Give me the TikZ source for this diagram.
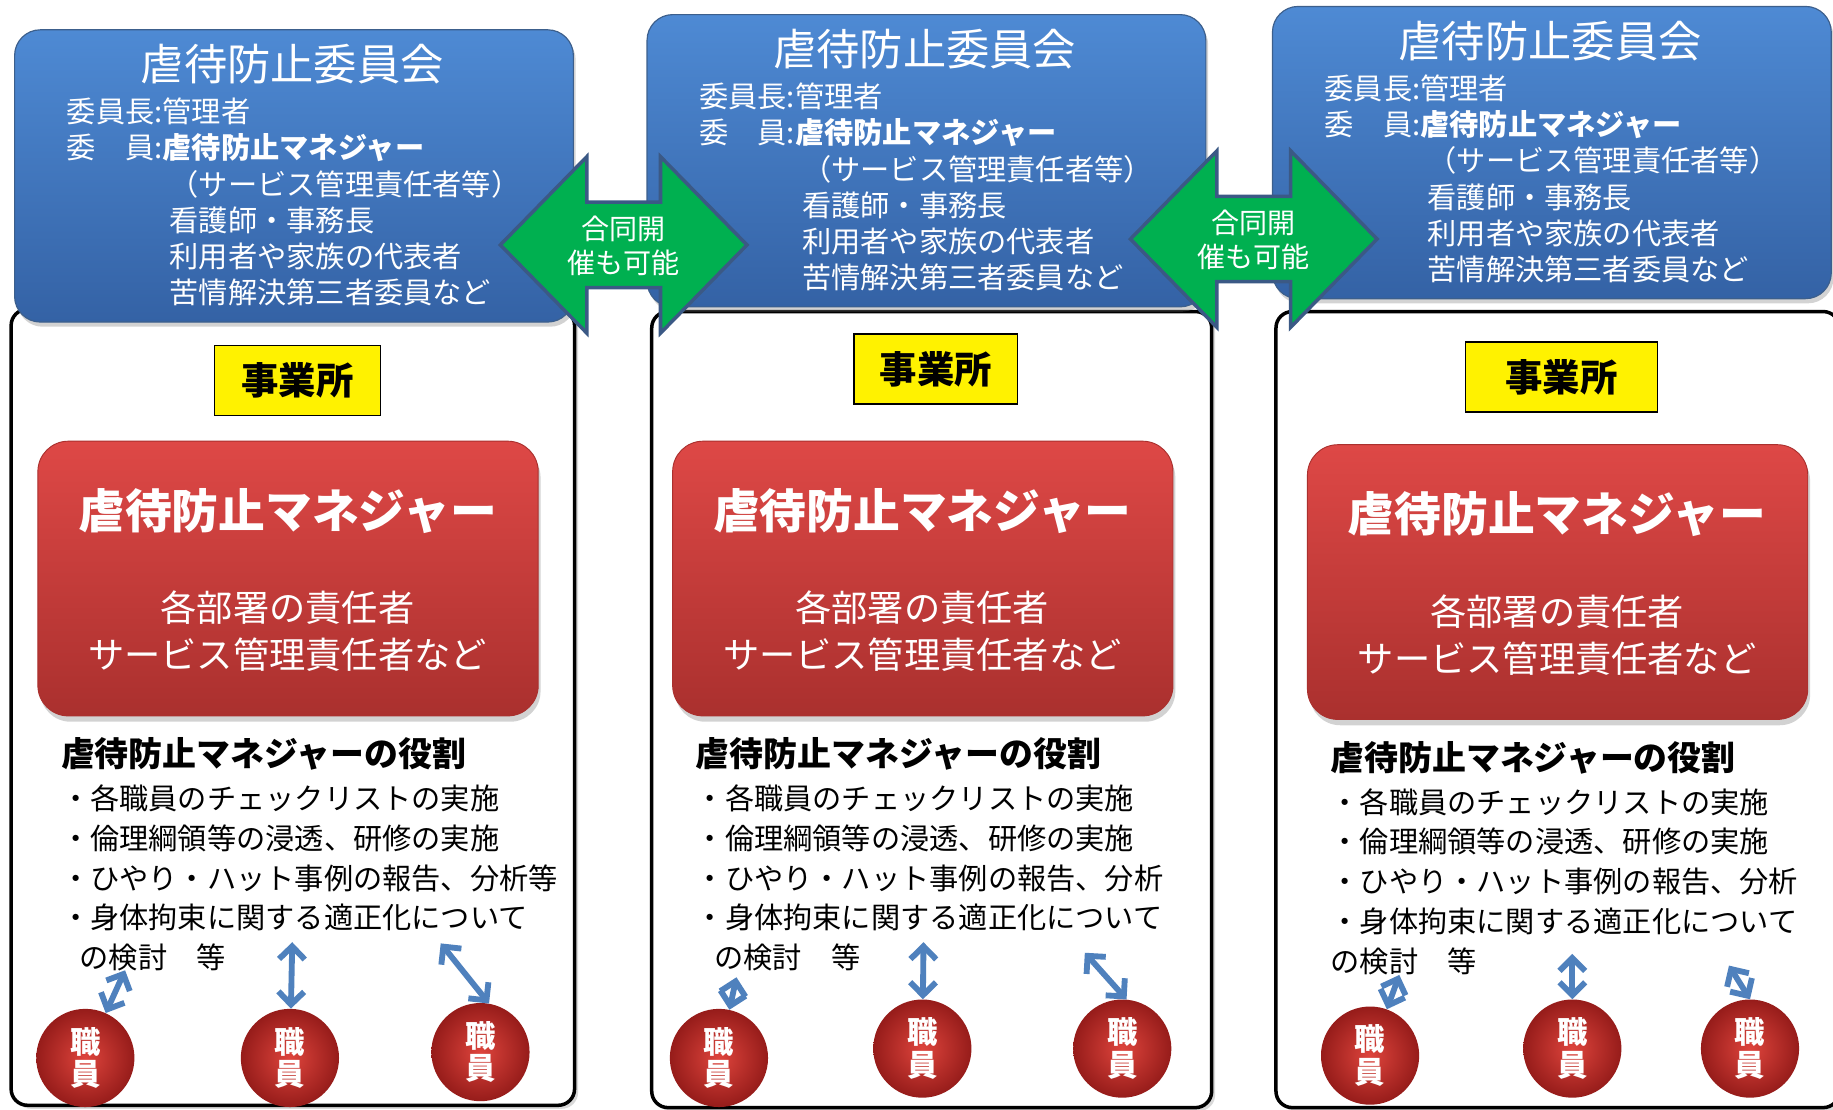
\documentclass[tikz,border=0pt]{standalone}
\usepackage{fontspec}
\setmainfont{Noto Sans CJK JP}
\usetikzlibrary{arrows.meta,shadows}

\definecolor{boxblue}{RGB}{78,138,212}
\definecolor{boxbluedark}{RGB}{52,98,165}
\definecolor{boxedge}{RGB}{60,95,140}
\definecolor{mgrred}{RGB}{222,72,70}
\definecolor{mgrreddark}{RGB}{170,48,46}
\definecolor{jointgreen}{RGB}{0,176,80}
\definecolor{jointedge}{RGB}{59,89,133}
\definecolor{linkblue}{RGB}{79,129,189}
\definecolor{staffred}{RGB}{222,68,60}
\definecolor{staffreddark}{RGB}{150,28,26}

\begin{document}
\begin{tikzpicture}[x=1pt,y=-1pt,
			committee box/.style={draw=boxedge,line width=1pt,rounded corners=22pt,top color=boxblue,bottom color=boxbluedark,minimum width=478pt,minimum height=250pt,anchor=north west,inner sep=0pt,drop shadow={shadow xshift=2pt,shadow yshift=-4pt,opacity=0.35}},
			committee title/.style={text=white,font=\fontsize{37}{44}\selectfont},
			member/.style={text=white,font=\fontsize{25}{31}\selectfont,anchor=base west,inner sep=0pt},
			office frame/.style={draw=black,line width=3pt,rounded corners=14pt,fill=white,minimum height=681pt,anchor=north west,inner sep=0pt,drop shadow={shadow xshift=3pt,shadow yshift=-3pt,opacity=0.3}},
			office tag/.style={draw=black,line width=1.2pt,fill=yellow,minimum height=60pt,anchor=north west,inner sep=0pt,font=\fontsize{32}{38}\selectfont\bfseries},
			manager box/.style={draw=mgrreddark,line width=0.8pt,rounded corners=26pt,top color=mgrred,bottom color=mgrreddark,minimum width=428pt,minimum height=235pt,anchor=north west,inner sep=0pt,drop shadow={shadow xshift=2pt,shadow yshift=-5pt,opacity=0.35}},
			manager title/.style={text=white,font=\fontsize{40}{48}\selectfont\bfseries},
			manager sub/.style={text=white,align=center,font=\fontsize{31}{40}\selectfont},
			role head/.style={anchor=base west,inner sep=0pt,font=\fontsize{29}{35}\selectfont\bfseries},
			role item/.style={anchor=base west,inner sep=0pt,font=\fontsize{25}{31}\selectfont},
			staff/.style={circle,inner color=staffred,outer color=staffreddark,minimum size=84pt,inner sep=0pt,text=white,align=center,font=\fontsize{26}{28}\selectfont\bfseries},
			staff link/.style={{Straight Barb[length=11pt,width=22pt]}-{Straight Barb[length=11pt,width=22pt]},draw=linkblue,line width=5pt},
			joint/.style={draw=jointedge,line width=3pt,fill=jointgreen,line join=miter},
			joint text/.style={text=white,align=center,font=\fontsize{24}{29}\selectfont}
			]

			\useasboundingbox (0,0) rectangle (1568,949);

			% committee: name, top left corner
			\def\committee#1#2#3{
				\node[committee box] (#1box) at (#2,#3) {};
				\node[committee title] (#1title) at (#2+238,#3+30) {虐待防止委員会};
				\node[member] (#1chair) at (#2+45,#3+80) {委員長:管理者};
				\node[member] (#1memb) at (#2+45,#3+111) {委　員:\textbf{虐待防止マネジャー}};
				\foreach \t [count=\i] in {（サービス管理責任者等）,看護師・事務長,利用者や家族の代表者,苦情解決第三者委員など}
					\node[member] (#1m\i) at (#2+133,#3+111+31*\i) {\t};
			}

			% manager: name, top left corner, third item, indent of last line
			\def\manager#1#2#3#4#5{
				\node[manager box] (#1mgr) at (#2,#3) {};
				\node[manager title] (#1mgrtitle) at (#2+214,#3+60) {虐待防止マネジャー};
				\node[manager sub] (#1mgrsub) at (#2+214,#3+163) {各部署の責任者\\サービス管理責任者など};
				\node[role head] (#1role) at (#2+20,#3+279) {虐待防止マネジャーの役割};
				\foreach \t [count=\i] in {・各職員のチェックリストの実施,・倫理綱領等の浸透、研修の実施,#4,・身体拘束に関する適正化について}
					\node[role item] (#1item\i) at (#2+20,#3+281.5+34*\i) {\t};
				\node[role item] (#1item5) at (#2+20+#5,#3+451.5) {の検討　等};
			}

			% joint meeting arrow: name, centre
			\def\joint#1#2#3{
				\draw[joint] (#2-105.5,#3) -- (#2-31.5,#3-75.5) -- (#2-31.5,#3-36.5) -- (#2+31.5,#3-36.5) -- (#2+31.5,#3-75.5) -- (#2+105.5,#3)
					-- (#2+31.5,#3+75.5) -- (#2+31.5,#3+36.5) -- (#2-31.5,#3+36.5) -- (#2-31.5,#3+75.5) -- cycle;
				\node[joint text] (#1) at (#2,#3+1) {合同開\\催も可能};
			}

			\node[office frame,minimum width=482pt] (f1) at (8,263) {};
			\node[office frame,minimum width=479pt] (f2) at (556,265) {};
			\node[office frame,minimum width=482pt] (f3) at (1090,265) {};

			\committee{a}{12}{25}
			\committee{b}{553}{12}
			\committee{c}{1088}{5}

			\joint{j1}{533.5}{209.5}
			\joint{j2}{1072.5}{204.5}

			\node[office tag,minimum width=142pt] (y1) at (183,295) {事業所};
			\node[office tag,minimum width=140pt] (y2) at (730,285) {事業所};
			\node[office tag,minimum width=164pt] (y3) at (1253,292) {事業所};

			\manager{a}{32}{377}{・ひやり・ハット事例の報告、分析等}{16}
			\manager{b}{575}{377}{・ひやり・ハット事例の報告、分析}{16}
			\manager{c}{1118}{380}{・ひやり・ハット事例の報告、分析}{0}

			\node[staff] (s11) at (73,905) {職\\員};
			\node[staff] (s12) at (248,905) {職\\員};
			\node[staff] (s13) at (411,900) {職\\員};
			\node[staff] (s21) at (615,905) {職\\員};
			\node[staff] (s22) at (789,897) {職\\員};
			\node[staff] (s23) at (960,897) {職\\員};
			\node[staff] (s31) at (1172,903) {職\\員};
			\node[staff] (s32) at (1345,897) {職\\員};
			\node[staff] (s33) at (1497,897) {職\\員};

			\coordinate (t11) at (107,830);
			\coordinate (t12) at (250,806);
			\coordinate (t13) at (377,807);
			\coordinate (t21) at (630,836);
			\coordinate (t22) at (790,806);
			\coordinate (t23) at (928,815);
			\coordinate (t31) at (1197,834);
			\coordinate (t32) at (1345,816);
			\coordinate (t33) at (1479,826);

			\draw[staff link] (t11) -- (s11);
			\draw[staff link] (t12) -- (s12);
			\draw[staff link] (t13) -- (s13.80);
			\draw[staff link] (t21) -- (s21);
			\draw[staff link] (t22) -- (s22);
			\draw[staff link] (t23) -- (s23.85);
			\draw[staff link] (t31) -- (s31);
			\draw[staff link] (t32) -- (s32);
			\draw[staff link] (t33) -- (s33.north);
		\end{tikzpicture}
\end{document}
